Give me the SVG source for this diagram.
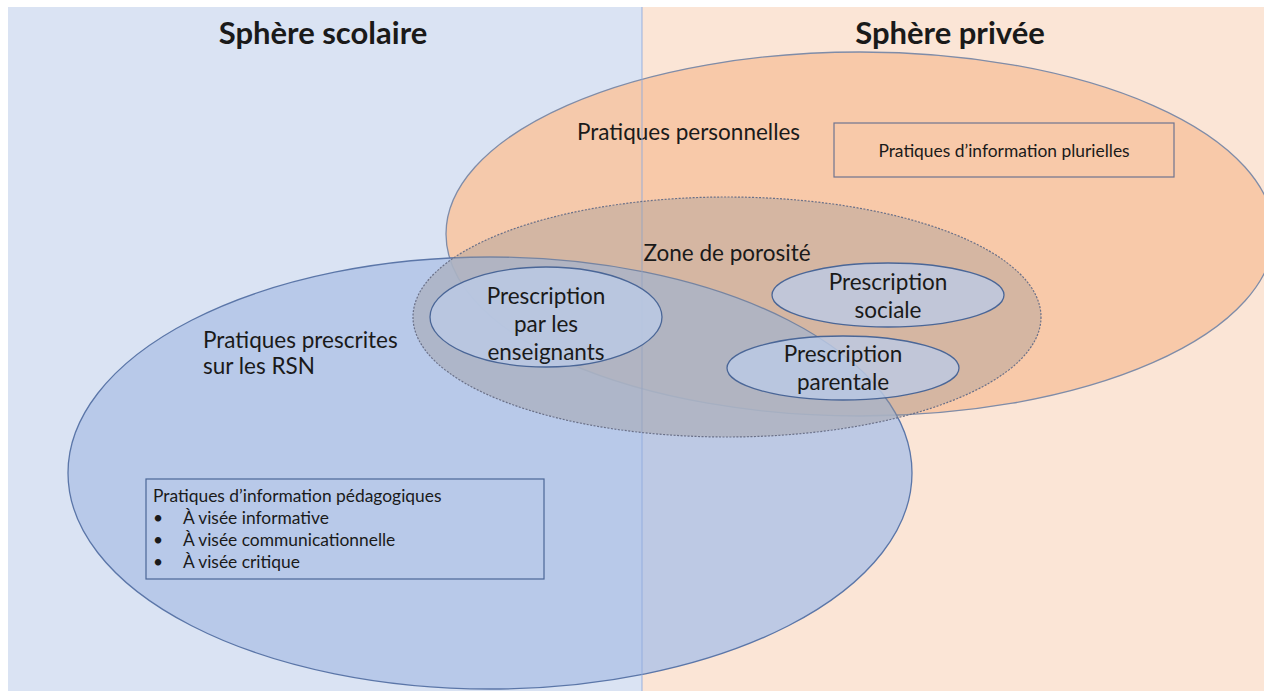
<svg xmlns="http://www.w3.org/2000/svg" width="1264" height="691" viewBox="0 0 1264 691">
<style>
text{font-family:Lato,"Open Sans","Liberation Sans",sans-serif;fill:#1a1a1a}
.h{font-size:31px;font-weight:bold;text-anchor:middle}
.lbl{font-size:22.5px}
.in{font-size:22.5px;text-anchor:middle}
.sm{font-size:17.4px}
.inner{fill:#BCCBE6;fill-opacity:0.8;stroke:#4A6697;stroke-width:1.3}
</style>
<rect x="0" y="0" width="1264" height="691" fill="#ffffff"/>
<g id="sphere-scolaire">
<rect x="8" y="7" width="634" height="684" fill="#DAE3F3"/>
<text class="h" x="323" y="44">Sphère scolaire</text>
</g>
<g id="sphere-privee">
<rect x="642" y="7" width="622" height="684" fill="#FBE5D6"/>
<text class="h" x="950" y="44">Sphère privée</text>
</g>
<g id="pratiques-personnelles">
<ellipse cx="860" cy="234" rx="414" ry="182" fill="#F7C7A5" fill-opacity="0.92" stroke="#7F8CA8" stroke-width="1.3"/>
<text class="lbl" x="577" y="140">Pratiques personnelles</text>
</g>
<g id="pratiques-prescrites">
<ellipse cx="490" cy="473" rx="422" ry="216" fill="#B1C4E6" fill-opacity="0.85" stroke="#5B76A8" stroke-width="1.3"/>
<text class="lbl" x="203" y="348">Pratiques prescrites</text>
<text class="lbl" x="203" y="374">sur les RSN</text>
</g>
<g id="divider">
<line x1="642" y1="7" x2="642" y2="691" stroke="#8FAADC" stroke-width="1.5" stroke-opacity="0.6"/>
</g>
<g id="zone-porosite">
<ellipse cx="727" cy="317" rx="314" ry="120" fill="#A09A98" fill-opacity="0.4" stroke="#6A7088" stroke-width="1.2" stroke-dasharray="2 1.5"/>
<text class="in" x="727" y="261">Zone de porosité</text>
</g>
<g id="prescription-enseignants">
<ellipse class="inner" cx="546" cy="317" rx="116" ry="50"/>
<text class="in" x="546" y="304">Prescription</text>
<text class="in" x="546" y="332">par les</text>
<text class="in" x="546" y="360">enseignants</text>
</g>
<g id="prescription-sociale">
<ellipse class="inner" cx="888" cy="295" rx="116" ry="32"/>
<text class="in" x="888" y="290">Prescription</text>
<text class="in" x="888" y="318">sociale</text>
</g>
<g id="prescription-parentale">
<ellipse class="inner" cx="843" cy="368" rx="116" ry="32"/>
<text class="in" x="843" y="362">Prescription</text>
<text class="in" x="843" y="390">parentale</text>
</g>
<g id="info-plurielles">
<rect x="834" y="123" width="340" height="54" fill="none" stroke="#6F7490" stroke-width="1.2"/>
<text class="sm" x="1004" y="157" text-anchor="middle">Pratiques d’information plurielles</text>
</g>
<g id="info-pedagogiques">
<rect x="146" y="479" width="398" height="100" fill="none" stroke="#4A6697" stroke-width="1.2"/>
<text class="sm" x="153" y="502">Pratiques d’information pédagogiques</text>
<text class="sm" x="153" y="524">•</text><text class="sm" x="183" y="524">À visée informative</text>
<text class="sm" x="153" y="546">•</text><text class="sm" x="183" y="546">À visée communicationnelle</text>
<text class="sm" x="153" y="568">•</text><text class="sm" x="183" y="568">À visée critique</text>
</g>
</svg>
